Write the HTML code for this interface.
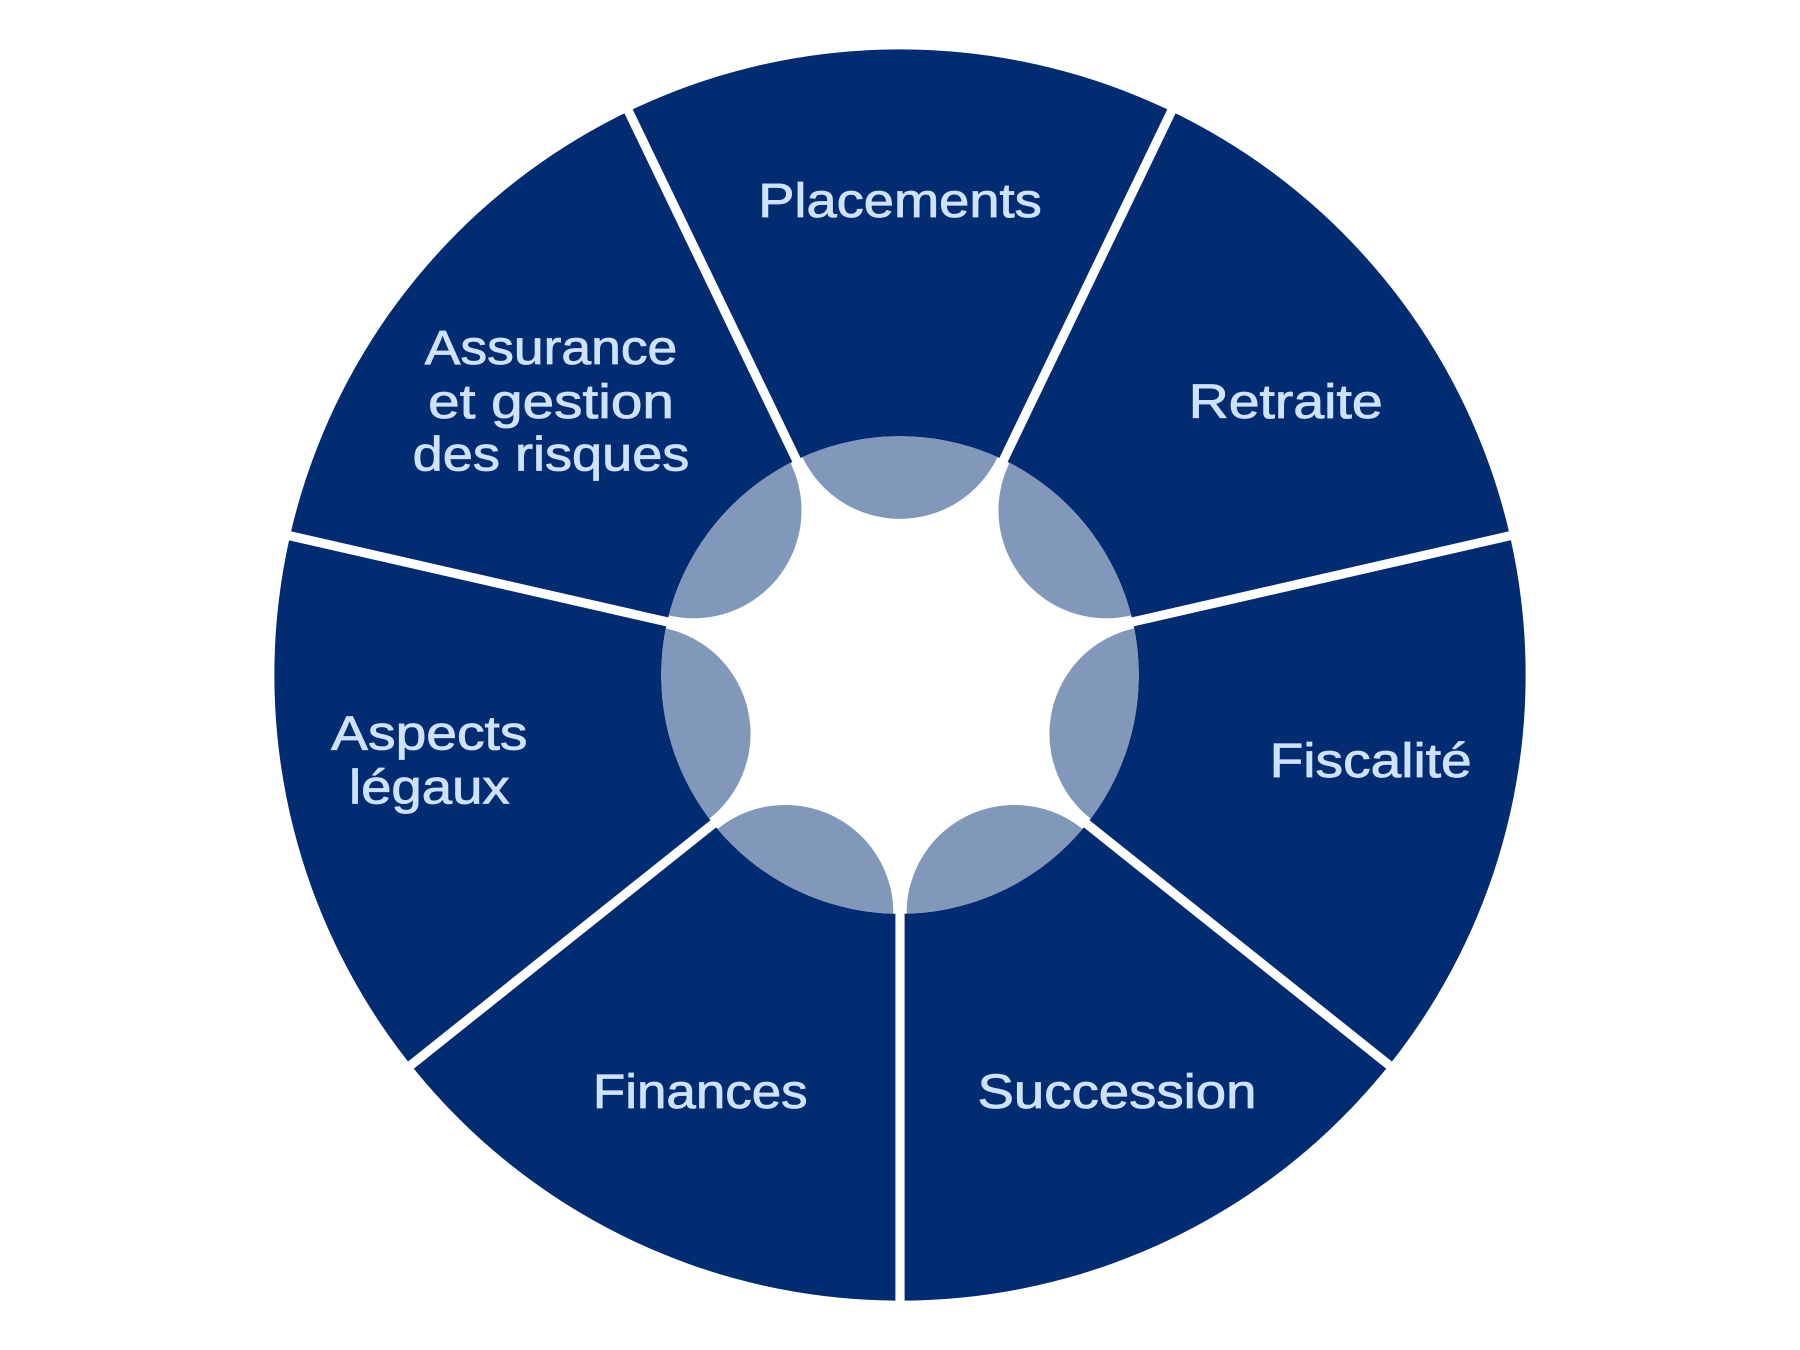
<!DOCTYPE html>
<html><head><meta charset="utf-8"><style>
html,body{margin:0;padding:0;background:#fff;}
svg{display:block;}
text{font-family:"Liberation Sans",sans-serif;font-size:42px;fill:#cfe2fb;stroke:#cfe2fb;stroke-width:0.7;text-anchor:middle;}
</style></head><body>
<svg width="1800" height="1350" viewBox="0 0 1568 1176" preserveAspectRatio="none" xmlns="http://www.w3.org/2000/svg">
<defs><clipPath id="inner"><circle cx="784" cy="588" r="208"/></clipPath></defs>
<rect width="1568" height="1176" fill="#fff"/>
<circle cx="784" cy="588" r="545" fill="#022c71"/>
<circle cx="784" cy="588" r="208" fill="#fff"/>
<g clip-path="url(#inner)" fill="#8298bb">
<circle cx="784" cy="358" r="94"/>
<circle cx="963.8" cy="444.6" r="94"/>
<circle cx="1008.2" cy="639.2" r="94"/>
<circle cx="883.8" cy="795.2" r="94"/>
<circle cx="684.2" cy="795.2" r="94"/>
<circle cx="559.8" cy="639.2" r="94"/>
<circle cx="604.2" cy="444.6" r="94"/>
</g>
<g stroke="#fff" stroke-width="8">
<line x1="1027" y1="83.4" x2="872.9" y2="403.3"/>
<line x1="541" y1="83.4" x2="695.1" y2="403.3"/>
<line x1="1329.9" y1="463.4" x2="983.9" y2="542.4"/>
<line x1="238.1" y1="463.4" x2="584.1" y2="542.4"/>
<line x1="1221.8" y1="937.2" x2="944.3" y2="715.8"/>
<line x1="346.2" y1="937.2" x2="623.7" y2="715.8"/>
<line x1="784" y1="1148" x2="784" y2="793"/>
</g>
<text x="784" y="189" textLength="247" lengthAdjust="spacingAndGlyphs">Placements</text>
<text x="480" y="317" textLength="220" lengthAdjust="spacingAndGlyphs">Assurance</text>
<text x="480" y="364" textLength="214" lengthAdjust="spacingAndGlyphs">et gestion</text>
<text x="480" y="410" textLength="241" lengthAdjust="spacingAndGlyphs">des risques</text>
<text x="1120" y="364" textLength="169" lengthAdjust="spacingAndGlyphs">Retraite</text>
<text x="374" y="653" textLength="171" lengthAdjust="spacingAndGlyphs">Aspects</text>
<text x="374" y="700" textLength="140" lengthAdjust="spacingAndGlyphs">légaux</text>
<text x="1194" y="677" textLength="176" lengthAdjust="spacingAndGlyphs">Fiscalité</text>
<text x="610" y="965" textLength="187" lengthAdjust="spacingAndGlyphs">Finances</text>
<text x="973" y="965" textLength="243" lengthAdjust="spacingAndGlyphs">Succession</text>
</svg>
</body></html>
